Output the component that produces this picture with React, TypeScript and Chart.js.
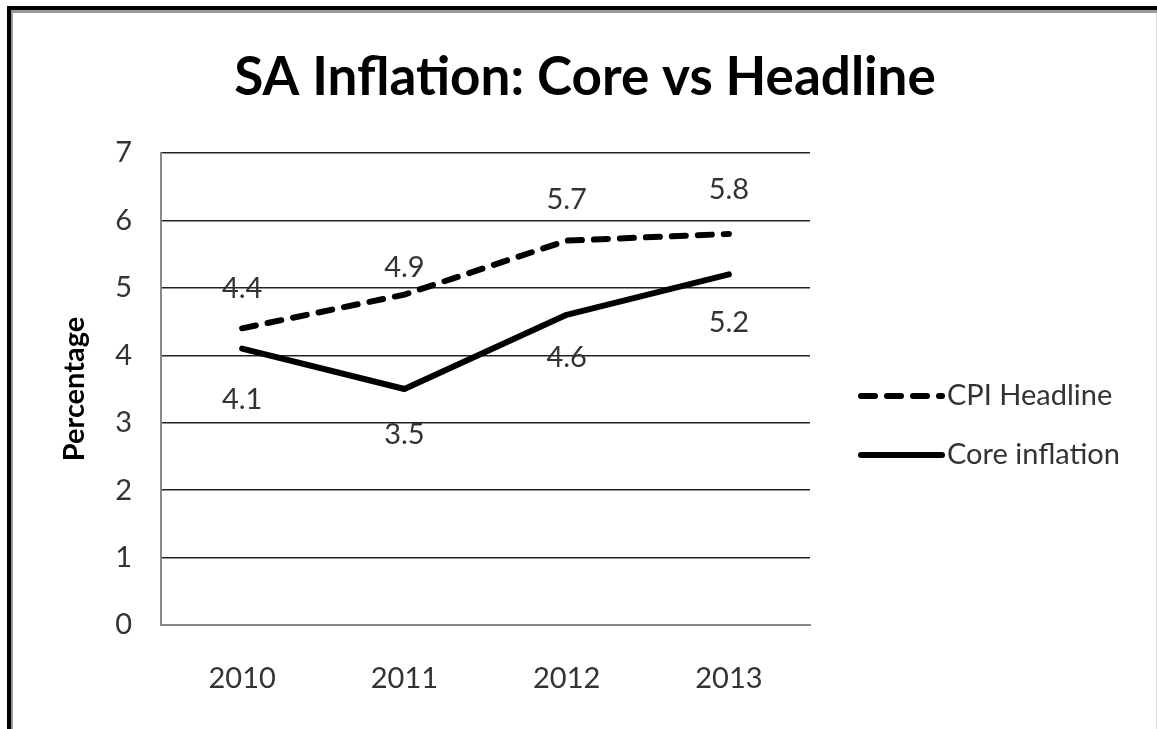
import React, { useEffect, useRef } from "react";
import { Chart, registerables } from "chart.js";

Chart.register(...registerables);

const chartTitle = "SA Inflation: Core vs Headline";
const yAxisTitle = "Percentage";
const categories = ["2010", "2011", "2012", "2013"];
const seriesNames = ["CPI Headline", "Core inflation"];
const cpiHeadline = [4.4, 4.9, 5.7, 5.8];
const coreInflation = [4.1, 3.5, 4.6, 5.2];
const yMin = 0;
const yMax = 7;
const yStep = 1;

// label vertical offsets (pixels, style only)
const headlineLabelDy = [-40, -27, -41, -44];
const coreLabelDy = [51, 46, 43, 48];

const FONT = "Lato, 'Open Sans', sans-serif";
const TEXT = "#333333";

const overlayPlugin = {
  id: "overlay",
  afterDatasetsDraw(chart: any) {
    const ctx = chart.ctx;
    const area = chart.chartArea;
    ctx.save();
    // title
    ctx.fillStyle = "#000";
    ctx.font = `bold 53px ${FONT}`;
    ctx.textAlign = "center";
    ctx.textBaseline = "middle";
    ctx.fillText(chartTitle, 585, 78);

    // y axis title
    ctx.save();
    ctx.translate(75, (area.top + area.bottom) / 2);
    ctx.rotate(-Math.PI / 2);
    ctx.font = `bold 29px ${FONT}`;
    ctx.fillStyle = "#000";
    ctx.fillText(yAxisTitle, 0, 0);
    ctx.restore();

    // data labels
    ctx.font = `29px ${FONT}`;
    ctx.fillStyle = TEXT;
    const offs = [headlineLabelDy, coreLabelDy];
    chart.data.datasets.forEach((ds: any, di: number) => {
      const meta = chart.getDatasetMeta(di);
      meta.data.forEach((pt: any, i: number) => {
        ctx.fillText(String(ds.data[i]), pt.x, pt.y + offs[di][i]);
      });
    });

    // legend
    const lx0 = area.right + 48;
    const lx1 = lx0 + 87;
    const ys = [396, 455];
    chart.data.datasets.forEach((ds: any, di: number) => {
      ctx.save();
      ctx.strokeStyle = ds.borderColor;
      ctx.lineWidth = ds.borderWidth;
      ctx.lineCap = "round";
      ctx.setLineDash(ds.borderDash || []);
      ctx.beginPath();
      ctx.moveTo(lx0 + 3, ys[di]);
      ctx.lineTo(lx1 - 3, ys[di]);
      ctx.stroke();
      ctx.restore();
      ctx.textAlign = "left";
      ctx.fillStyle = TEXT;
      ctx.font = `29px ${FONT}`;
      ctx.fillText(ds.label, lx1 + 2, ys[di]);
    });
    ctx.restore();
  },
};

export default function App() {
  const ref = useRef<HTMLCanvasElement | null>(null);
  useEffect(() => {
    if (!ref.current) return;
    const chart = new Chart(ref.current, {
      type: "line",
      data: {
        labels: categories,
        datasets: [
          {
            label: seriesNames[0],
            data: cpiHeadline,
            borderColor: "#000",
            borderWidth: 6,
            borderDash: [14, 12],
            borderCapStyle: "round",
            pointRadius: 0,
            tension: 0,
            fill: false,
          },
          {
            label: seriesNames[1],
            data: coreInflation,
            borderColor: "#000",
            borderWidth: 6,
            borderCapStyle: "round",
            borderJoinStyle: "round",
            pointRadius: 0,
            tension: 0,
            fill: false,
          },
        ],
      },
      options: {
        responsive: false,
        animation: false,
        devicePixelRatio: 1,
        layout: { padding: { left: 0, top: 153, right: 347, bottom: 0 } },
        plugins: {
          legend: { display: false },
          title: { display: false },
          tooltip: { enabled: false },
        },
        scales: {
          x: {
            offset: true,
            grid: { display: false, drawTicks: false },
            border: { display: true, color: "#888888", width: 2 },
            ticks: {
              color: TEXT,
              font: { family: FONT, size: 29 },
              padding: 36,
            },
            afterFit: (s: any) => {
              s.height = 104;
            },
          },
          y: {
            min: yMin,
            max: yMax,
            grid: {
              drawTicks: false,
              color: (c: any) => (c.tick && c.tick.value === 0 ? "rgba(0,0,0,0)" : "#222222"),
              lineWidth: 1.5,
            },
            border: { display: true, color: "#888888", width: 2 },
            ticks: {
              stepSize: yStep,
              color: TEXT,
              font: { family: FONT, size: 29 },
              padding: 29,
            },
            afterFit: (s: any) => {
              s.width = 161;
            },
          },
        },
      },
      plugins: [overlayPlugin],
    });
    return () => chart.destroy();
  }, []);

  return (
    <div style={{ position: "absolute", left: 0, top: 0, width: 1157, height: 729, background: "#fff", overflow: "hidden" }}>
      <canvas ref={ref} width={1157} height={729} style={{ position: "absolute", left: 0, top: 0, width: 1157, height: 729 }} />
      <div style={{ position: "absolute", left: 7, top: 6, right: 0, height: 4, background: "#000" }} />
      <div style={{ position: "absolute", left: 7, top: 6, width: 4, bottom: 0, background: "#000" }} />
      <div style={{ position: "absolute", left: 11, top: 10, right: 0, height: 3, background: "#999" }} />
      <div style={{ position: "absolute", left: 11, top: 10, width: 2, bottom: 0, background: "#999" }} />
      <div style={{ position: "absolute", left: 1156, top: 13, width: 1, bottom: 0, background: "#ddd" }} />
    </div>
  );
}
